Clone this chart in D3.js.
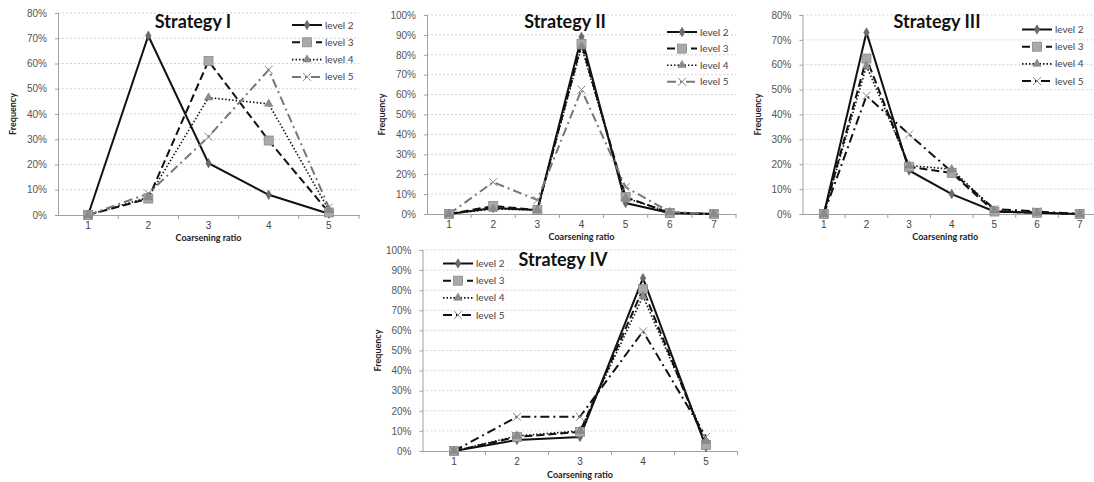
<!DOCTYPE html>
<html><head><meta charset="utf-8">
<script src="https://cdn.jsdelivr.net/npm/d3@7"></script>
<style>
html,body{margin:0;padding:0;background:#fff;}
svg{display:block;font-family:Lato,"Open Sans",sans-serif;}
</style></head>
<body><svg id="c" width="1094" height="482"></svg>
<script>
// ---- data ----
const seriesNames = ["level 2", "level 3", "level 4", "level 5"];
const ratios5 = [1, 2, 3, 4, 5];
const ratios7 = [1, 2, 3, 4, 5, 6, 7];
const yTicks80 = [0, 10, 20, 30, 40, 50, 60, 70, 80];
const yTicks100 = [0, 10, 20, 30, 40, 50, 60, 70, 80, 90, 100];

const s1Level2 = [0, 71, 20.5, 8, 0.5];
const s1Level3 = [0, 6.5, 61, 29.5, 1];
const s1Level4 = [0, 7, 46.5, 44, 2];
const s1Level5 = [0, 8.5, 31, 57.5, 3];

const s2Level2 = [0, 3, 2, 89, 5.5, 0.5, 0];
const s2Level3 = [0, 4, 2, 85.5, 8.5, 0.5, 0];
const s2Level4 = [0, 2.5, 2, 84, 8, 1, 0];
const s2Level5 = [0, 16, 7, 62.5, 13.5, 1, 0];

const s3Level2 = [0, 73, 17.5, 8, 1, 0.5, 0];
const s3Level3 = [0, 62.5, 19, 16.5, 1, 0.5, 0];
const s3Level4 = [0, 59.5, 19.5, 18, 1.5, 0.5, 0];
const s3Level5 = [0, 47.5, 32, 17, 2, 1, 0];

const s4Level2 = [0, 5.5, 7, 86, 2];
const s4Level3 = [0, 7, 9.5, 80.5, 3];
const s4Level4 = [0, 7.5, 10, 77, 5];
const s4Level5 = [0, 17, 17, 59.5, 7];

// ---- layout ----
const panels = [
  {title: "Strategy I", cats: ratios5, ticks: yTicks80, max: 80,
   series: [s1Level2, s1Level3, s1Level4, s1Level5],
   l: 58, r: 359, t: 13, b: 215, titleX: 193, titleY: 28,
   legX: 292, legY: 25, legDy: 17.3, l5col: "#777", xlabY: 241},
  {title: "Strategy II", cats: ratios7, ticks: yTicks100, max: 100,
   series: [s2Level2, s2Level3, s2Level4, s2Level5],
   l: 427, r: 736, t: 15, b: 214, titleX: 565, titleY: 28,
   legX: 667, legY: 32, legDy: 16.6, l5col: "#777", xlabY: 240},
  {title: "Strategy III", cats: ratios7, ticks: yTicks80, max: 80,
   series: [s3Level2, s3Level3, s3Level4, s3Level5],
   l: 802.5, r: 1101, t: 15, b: 214, titleX: 937, titleY: 28,
   legX: 1022, legY: 29.5, legDy: 17.2, l5col: "#111", xlabY: 240},
  {title: "Strategy IV", cats: ratios5, ticks: yTicks100, max: 100,
   series: [s4Level2, s4Level3, s4Level4, s4Level5],
   l: 422.5, r: 737.5, t: 250, b: 451, titleX: 563, titleY: 266,
   legX: 443, legY: 263.5, legDy: 17.2, l5col: "#111", xlabY: 478}
];

const svg = d3.select("#c");
const lineStyles = [
  {dash: null, w: 2},
  {dash: "8,4", w: 2},
  {dash: "1.5,2", w: 1.6},
  {dash: "9,4,2,4", w: 2}
];

function marker(g, i, x, y) {
  if (i === 0) {
    g.append("path").attr("d", d3.symbol(d3.symbolDiamond, 26)())
      .attr("transform", `translate(${x},${y})`).attr("fill", "#6b6b6b").attr("stroke", "#555").attr("stroke-width", 0.5);
  } else if (i === 1) {
    g.append("rect").attr("x", x - 4.5).attr("y", y - 4.5).attr("width", 9).attr("height", 9)
      .attr("fill", "#a9a9a9").attr("stroke", "#8a8a8a").attr("stroke-width", 0.8);
  } else if (i === 2) {
    g.append("path").attr("d", d3.symbol(d3.symbolTriangle, 30)())
      .attr("transform", `translate(${x},${y})`).attr("fill", "#8c8c8c").attr("stroke", "#777").attr("stroke-width", 0.5);
  } else {
    g.append("path").attr("d", `M${x-4},${y-4}L${x+4},${y+4}M${x-4},${y+4}L${x+4},${y-4}`)
      .attr("stroke", "#888").attr("stroke-width", 1).attr("fill", "none");
  }
}

panels.forEach(p => {
  const g = svg.append("g");
  const x = d3.scaleBand().domain(p.cats).range([p.l, p.r]).paddingInner(0).paddingOuter(0);
  const y = d3.scaleLinear().domain([0, p.max]).range([p.b, p.t]);
  const cx = c => x(c) + x.bandwidth() / 2;

  // gridlines
  g.append("g").selectAll("line").data(p.ticks.filter(d => d > 0)).join("line")
    .attr("x1", p.l).attr("x2", Math.min(p.r, 1094)).attr("y1", d => y(d)).attr("y2", d => y(d))
    .attr("stroke", "#c8c8c8").attr("stroke-width", 0.8).attr("stroke-dasharray", "2,2");

  // y axis
  const ya = g.append("g").attr("transform", `translate(${p.l},0)`)
    .call(d3.axisLeft(y).tickValues(p.ticks).tickFormat(d => d + "%").tickSize(3).tickPadding(8));
  ya.select(".domain").attr("stroke", "#a0a0a0");
  ya.selectAll(".tick line").attr("stroke", "#a0a0a0");
  ya.selectAll("text").attr("fill", "#555").attr("font-size", 10);

  // x axis
  const xa = g.append("g").attr("transform", `translate(0,${p.b})`)
    .call(d3.axisBottom(x).tickSize(0).tickPadding(7));
  xa.select(".domain").attr("stroke", "#a0a0a0");
  xa.selectAll("text").attr("fill", "#444").attr("font-size", 10);
  // tick marks at category boundaries
  g.append("g").selectAll("line").data(p.cats.slice(1).concat(["end"])).join("line")
    .attr("x1", d => d === "end" ? p.r : x(d)).attr("x2", d => d === "end" ? p.r : x(d))
    .attr("y1", p.b).attr("y2", p.b + 4).attr("stroke", "#a0a0a0");

  // axis titles
  g.append("text").attr("x", (p.l + Math.min(p.r, 1094)) / 2 + (p.r > 1094 ? -3 : 0)).attr("y", p.xlabY)
    .attr("text-anchor", "middle").attr("font-size", 9).attr("font-weight", "bold").attr("fill", "#222")
    .text("Coarsening ratio");
  g.append("text").attr("transform", `translate(${p.l - 42},${(p.t + p.b) / 2}) rotate(-90)`)
    .attr("text-anchor", "middle").attr("font-size", 9).attr("font-weight", "bold").attr("fill", "#222")
    .text("Frequency");

  // title
  g.append("text").attr("x", p.titleX).attr("y", p.titleY).attr("text-anchor", "middle")
    .attr("font-size", 18).attr("font-weight", "bold").attr("fill", "#111").text(p.title);

  // series
  const line = d3.line().x((d, j) => cx(p.cats[j])).y(d => y(d));
  p.series.forEach((s, i) => {
    const st = lineStyles[i];
    const col = i === 3 ? p.l5col : "#111";
    g.append("path").datum(s).attr("d", line).attr("fill", "none")
      .attr("stroke", col).attr("stroke-width", st.w)
      .attr("stroke-dasharray", st.dash);
  });
  p.series.forEach((s, i) => {
    const mg = g.append("g");
    s.forEach((v, j) => marker(mg, i, cx(p.cats[j]), y(v)));
  });

  // legend
  seriesNames.forEach((n, i) => {
    const ly = p.legY + i * p.legDy;
    const st = lineStyles[i];
    const col = i === 3 ? p.l5col : "#111";
    g.append("line").attr("x1", p.legX).attr("x2", p.legX + 30).attr("y1", ly).attr("y2", ly)
      .attr("stroke", col).attr("stroke-width", st.w).attr("stroke-dasharray", st.dash);
    marker(g, i, p.legX + 15, ly);
    g.append("text").attr("x", p.legX + 33).attr("y", ly + 3.5).attr("font-size", 10)
      .attr("fill", "#444").text(n);
  });
});
</script></body></html>
